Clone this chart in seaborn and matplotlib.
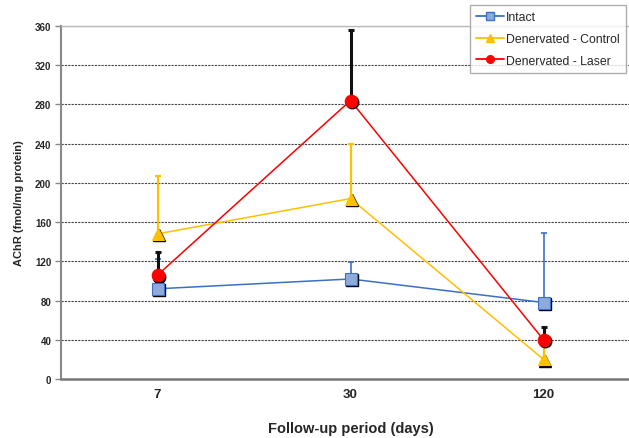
import numpy as np
import pandas as pd
import matplotlib
matplotlib.use("Agg")
import matplotlib.pyplot as plt
import matplotlib.transforms as mtransforms
from matplotlib.lines import Line2D
import seaborn as sns

# Follow-up periods and AChR values
days = ["7", "30", "120"]
series_names = ["Intact", "Denervated - Control", "Denervated - Laser"]
intact = [92, 102, 78]
intact_err = [30, 17, 71]
control = [148, 184, 20]
control_err = [59, 56, 14]
laser = [106, 284, 40]
laser_err = [24, 72, 13]

means = [intact, control, laser]
errs = [intact_err, control_err, laser_err]
line_colors = ["#3d6fc6", "#ffc000", "#ff0000"]
face_colors = ["#8eaadb", "#ffc000", "#ff0000"]
err_colors = ["#3d6fc6", "#ffc000", "#111111"]
err_widths = [1.2, 1.6, 2.2]
markers = ["s", "^", "o"]
msizes = [8, 8, 9]

df = pd.DataFrame({
    "day": days * 3,
    "value": intact + control + laser,
    "series": np.repeat(series_names, len(days)),
})

sns.set_style("white")
plt.rcParams["font.family"] = ["Liberation Sans", "DejaVu Sans"]

fig = plt.figure(figsize=(6.29, 4.39), dpi=100)
ax = fig.add_axes([61 / 629, 59 / 439, 579 / 629, 353 / 439])

pos = np.arange(len(days))
shadow = ax.transData + mtransforms.ScaledTranslation(1.5 / 100, -1.5 / 100, fig.dpi_scale_trans)

# error bars (upper only)
for m, e, c, w in zip(means, errs, err_colors, err_widths):
    ax.errorbar(pos, m, yerr=[np.zeros(len(e)), e], fmt="none", ecolor=c,
                elinewidth=w, capsize=2, capthick=w, zorder=2)

# lines
for name, col in zip(series_names, line_colors):
    sub = df[df["series"] == name]
    sns.lineplot(x=pos, y=sub["value"].values, color=col, linewidth=1.1,
                 ax=ax, zorder=3, legend=False)

# markers with a black drop shadow
for m, mk, ms, fc, lc in zip(means, markers, msizes, face_colors, line_colors):
    ax.plot(pos, m, linestyle="none", marker=mk, markersize=ms, color="black",
            transform=shadow, zorder=4)
    ax.plot(pos, m, linestyle="none", marker=mk, markersize=ms,
            markerfacecolor=fc, markeredgecolor=lc, markeredgewidth=0.8, zorder=5)

ax.set_xlim(-0.5, 2.5)
ax.set_ylim(0, 360)
ax.set_yticks(np.arange(0, 361, 40))
ax.set_xticks(pos)
ax.set_xticklabels(days)
ax.yaxis.grid(True, color="#444444", linestyle=(0, (2, 1)), linewidth=0.8)
ax.set_axisbelow(True)

ax.spines["right"].set_visible(False)
ax.spines["top"].set_color("#bbbbbb")
ax.spines["top"].set_linewidth(1)
ax.spines["left"].set_color("#888888")
ax.spines["left"].set_linewidth(1.5)
ax.spines["bottom"].set_color("#777777")
ax.spines["bottom"].set_linewidth(1.8)

ax.tick_params(axis="y", left=True, length=4, width=1, color="#888888",
               labelsize=7, pad=3)
ax.tick_params(axis="x", bottom=False, labelsize=9.5, pad=3)
for lbl in ax.get_yticklabels() + ax.get_xticklabels():
    lbl.set_fontweight("bold")

ax.set_ylabel("AChR (fmol/mg protein)", fontsize=8, fontweight="bold", labelpad=8)
ax.set_xlabel("Follow-up period (days)", fontsize=10.5, fontweight="bold", labelpad=15)

handles = [
    Line2D([0], [0], color=lc, marker=mk, markersize=5.5, markerfacecolor=fc,
           markeredgecolor=lc, linewidth=1.3)
    for mk, fc, lc in zip(markers, face_colors, line_colors)
]
leg = fig.legend(handles, series_names, loc="upper left",
                 bbox_to_anchor=(470 / 629, 1 - 6 / 439), fontsize=8.8,
                 frameon=True, fancybox=False, handlelength=2.3,
                 handletextpad=0.15, labelspacing=0.8, borderpad=0.5,
                 borderaxespad=0)
leg.get_frame().set_edgecolor("#999999")
leg.get_frame().set_linewidth(1)

fig.savefig("out.png", dpi=100)
